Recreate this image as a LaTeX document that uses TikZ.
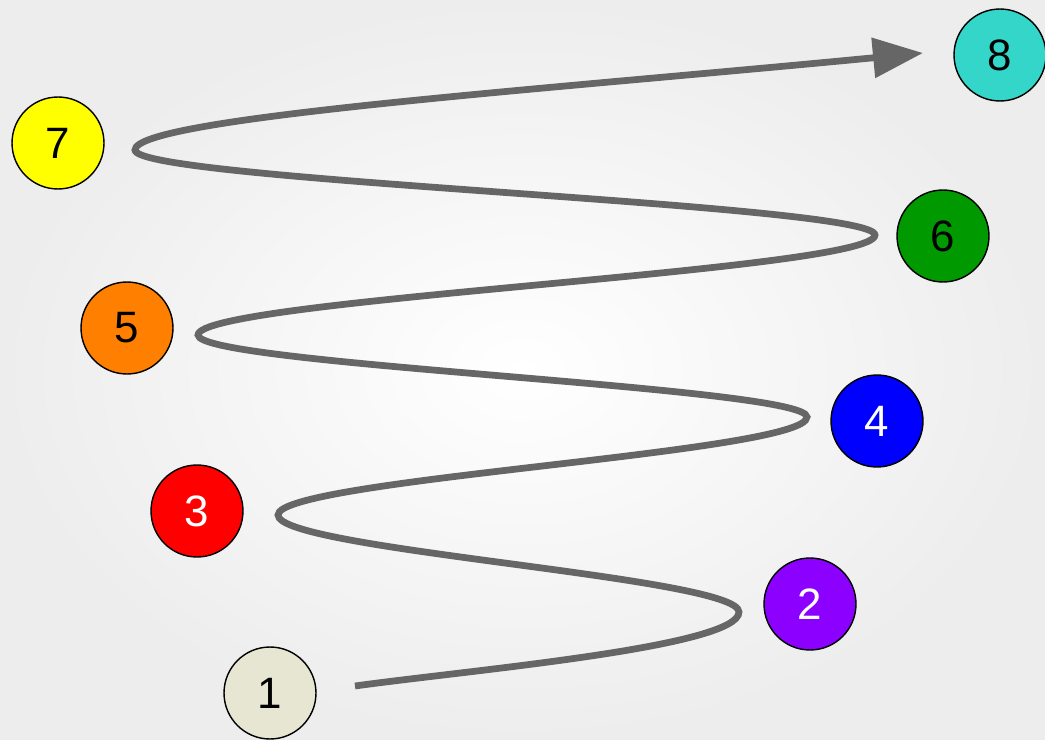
\documentclass[tikz,border=0pt]{standalone}
\usepackage{fontspec}
\setmainfont{Liberation Sans}
\usetikzlibrary{arrows.meta}
\definecolor{bgc}{HTML}{EDEDED}
\definecolor{linec}{HTML}{666666}
\definecolor{c1}{HTML}{E6E6D2}
\definecolor{c2}{HTML}{8C00FF}
\definecolor{c3}{HTML}{FF0000}
\definecolor{c4}{HTML}{0000FF}
\definecolor{c5}{HTML}{FF7F00}
\definecolor{c6}{HTML}{009900}
\definecolor{c7}{HTML}{FFFF00}
\definecolor{c8}{HTML}{33D6C8}
\tikzset{
  ball/.style={circle, draw=black, line width=0.8pt, minimum size=1.84cm, inner sep=0pt,
    font=\fontsize{25}{30}\selectfont},
  wave/.style={draw=linec, line width=0.135cm, line cap=butt,
    -{Triangle[length=1cm,width=0.78cm]}}
}
\begin{document}
\begin{tikzpicture}[x=0.02cm, y=-0.02cm]
  \useasboundingbox (0,0) rectangle (1045,740);
  \shade[inner color=white, outer color=bgc] (0,0) rectangle (1045,740);
  % nodes
  \node[ball, fill=c1, text=black] (n1) at (270,693) {1};
  \node[ball, fill=c2, text=white] (n2) at (810,604) {2};
  \node[ball, fill=c3, text=white] (n3) at (197,511) {3};
  \node[ball, fill=c4, text=white] (n4) at (877,421) {4};
  \node[ball, fill=c5, text=black] (n5) at (127,328) {5};
  \node[ball, fill=c6, text=black] (n6) at (943,236) {6};
  \node[ball, fill=c7, text=black] (n7) at (58,143) {7};
  \node[ball, fill=c8, text=black] (n8) at (1000,55) {8};
  % wave path
  \coordinate (s) at (355,686);
  \coordinate (r1) at (739,612);
  \coordinate (l1) at (278,515);
  \coordinate (r2) at (807,417);
  \coordinate (l2) at (198,335);
  \coordinate (r3) at (875,235);
  \coordinate (l3) at (135,150);
  \coordinate (e) at (923,53);
  \draw[wave] (s) .. controls (470,670) and (739,647) .. (r1)
    .. controls (739,577) and (278,550) .. (l1)
    .. controls (278,479) and (807,453) .. (r2)
    .. controls (807,387) and (198,365) .. (l2)
    .. controls (198,299) and (875,271) .. (r3)
    .. controls (875,204) and (135,181) .. (l3)
    .. controls (135,118) and (540,90) .. (e);
\end{tikzpicture}
\end{document}
